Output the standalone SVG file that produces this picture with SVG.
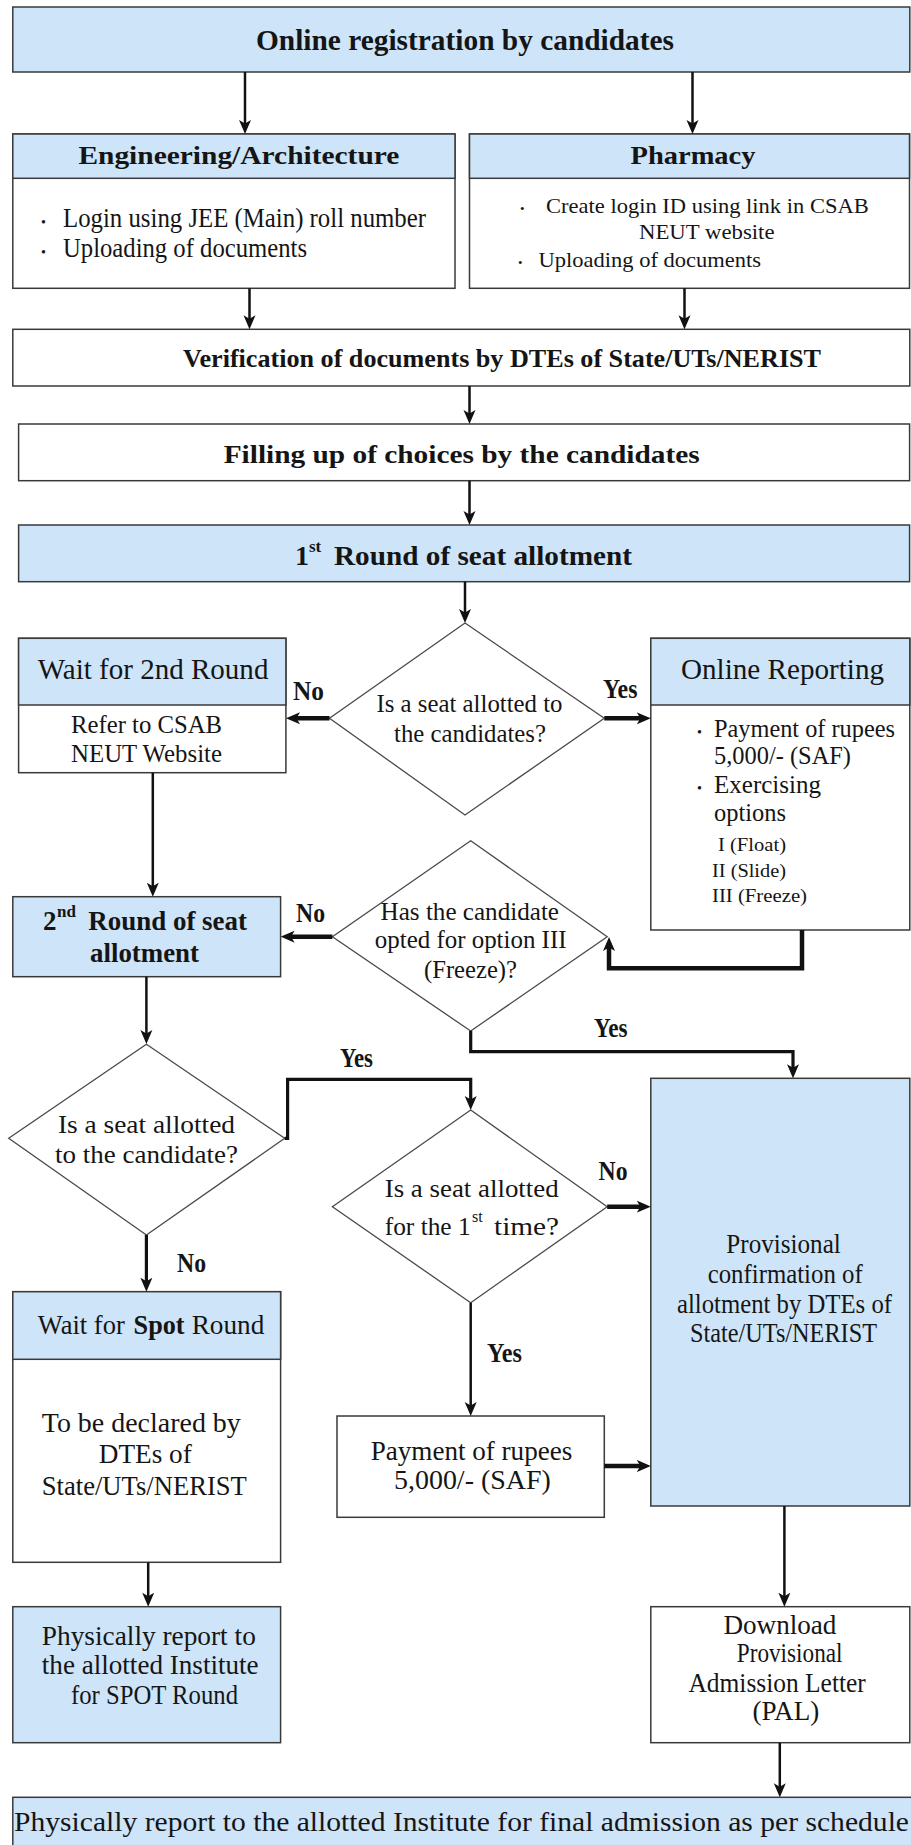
<svg xmlns="http://www.w3.org/2000/svg" width="911" height="1845" viewBox="0 0 911 1845">
<style>
.box{stroke:#3a3a3a;stroke-width:1.5;fill:#fff}
.blue{fill:#cde4f9}
.hdr{fill:#cde4f9;stroke:#3a3a3a;stroke-width:1.5}
.dia{fill:#fff;stroke:#4a4a4a;stroke-width:1.3}
text{font-family:"Liberation Serif","Times New Roman",serif;fill:#151515}
.b{font-weight:bold}
.c{fill:none;stroke:#111;stroke-width:2.5;marker-end:url(#ah)}
.ct{fill:none;stroke:#111;stroke-width:4.5;marker-end:url(#ah)}
.cm{fill:none;stroke:#111;stroke-width:3.2;marker-end:url(#ah)}
</style>
<defs>
<marker id="ah" markerUnits="userSpaceOnUse" markerWidth="14" markerHeight="14" viewBox="0 0 14 14" refX="8" refY="7" orient="auto">
<path d="M0,1 L14,7 L0,13 L3.5,7 z" fill="#111"/>
</marker>
</defs>
<rect width="911" height="1845" fill="#fff"/>

<g id="n-top">
<rect class="box blue" x="12.8" y="7" width="897" height="65"/>
<text class="b" x="256" y="50" font-size="30" textLength="418" lengthAdjust="spacingAndGlyphs">Online registration by candidates</text>
</g>

<g id="n-eng">
<rect class="box" x="12.8" y="134" width="442.2" height="154.3"/>
<rect class="hdr" x="12.8" y="134" width="442.2" height="44.3"/>
<text class="b" x="78.4" y="164" font-size="26" textLength="321" lengthAdjust="spacingAndGlyphs">Engineering/Architecture</text>
<text x="41" y="227" font-size="14">•</text>
<text x="63" y="227" font-size="27" textLength="363" lengthAdjust="spacingAndGlyphs">Login using JEE (Main) roll number</text>
<text x="41" y="257" font-size="14">•</text>
<text x="63" y="257" font-size="27" textLength="244" lengthAdjust="spacingAndGlyphs">Uploading of documents</text>
</g>

<g id="n-pharmacy">
<rect class="box" x="469.5" y="134" width="440" height="154.3"/>
<rect class="hdr" x="469.5" y="134" width="440" height="44.3"/>
<text class="b" x="630.5" y="164" font-size="26" textLength="125" lengthAdjust="spacingAndGlyphs">Pharmacy</text>
<text x="520" y="213" font-size="13">•</text>
<text x="546" y="213" font-size="21" textLength="322.7" lengthAdjust="spacingAndGlyphs">Create login ID using link in CSAB</text>
<text x="639" y="239.3" font-size="21" textLength="135.5" lengthAdjust="spacingAndGlyphs">NEUT website</text>
<text x="518" y="266.7" font-size="13">•</text>
<text x="538.6" y="266.7" font-size="21" textLength="222.4" lengthAdjust="spacingAndGlyphs">Uploading of documents</text>
</g>

<g id="n-verify">
<rect class="box" x="12.8" y="329.3" width="897" height="56.7"/>
<text class="b" x="183" y="367" font-size="26" textLength="638" lengthAdjust="spacingAndGlyphs">Verification of documents by DTEs of State/UTs/NERIST</text>
</g>

<g id="n-filling">
<rect class="box" x="18.6" y="424" width="891" height="56.7"/>
<text class="b" x="223.7" y="463" font-size="26" textLength="476" lengthAdjust="spacingAndGlyphs">Filling up of choices by the candidates</text>
</g>

<g id="n-round1">
<rect class="box blue" x="18.6" y="525" width="891" height="56.7"/>
<text class="b" x="295" y="565" font-size="28">1</text>
<text class="b" x="309" y="552" font-size="17">st</text>
<text class="b" x="334" y="565" font-size="28" textLength="298" lengthAdjust="spacingAndGlyphs">Round of seat allotment</text>
</g>

<g id="n-d1">
<polygon class="dia" points="465,623 604.3,718.3 465,815 329.5,718.3"/>
<text x="376.5" y="711.7" font-size="25" textLength="186" lengthAdjust="spacingAndGlyphs">Is a seat allotted to</text>
<text x="394" y="741.7" font-size="25" textLength="152" lengthAdjust="spacingAndGlyphs">the candidates?</text>
</g>

<g id="n-wait2">
<rect class="box" x="18.6" y="638.3" width="267.3" height="134.4"/>
<rect class="hdr" x="18.6" y="638.3" width="267.3" height="66.7"/>
<text x="37.8" y="679" font-size="29" textLength="230.6" lengthAdjust="spacingAndGlyphs">Wait for 2nd Round</text>
<text x="71" y="733" font-size="26" textLength="151" lengthAdjust="spacingAndGlyphs">Refer to CSAB</text>
<text x="71" y="762" font-size="26" textLength="151" lengthAdjust="spacingAndGlyphs">NEUT Website</text>
</g>

<g id="n-online">
<rect class="box" x="650.8" y="638.3" width="259" height="291.7"/>
<rect class="hdr" x="650.8" y="638.3" width="259" height="66.7"/>
<text x="681" y="679" font-size="30" textLength="203" lengthAdjust="spacingAndGlyphs">Online Reporting</text>
<text x="697" y="736.5" font-size="14">•</text>
<text x="714" y="736.5" font-size="25" textLength="181" lengthAdjust="spacingAndGlyphs">Payment of rupees</text>
<text x="714" y="763.5" font-size="25" textLength="137" lengthAdjust="spacingAndGlyphs">5,000/- (SAF)</text>
<text x="697" y="793" font-size="14">•</text>
<text x="714" y="793" font-size="25" textLength="107" lengthAdjust="spacingAndGlyphs">Exercising</text>
<text x="714" y="821" font-size="25" textLength="72" lengthAdjust="spacingAndGlyphs">options</text>
<text x="718" y="851" font-size="19" textLength="68" lengthAdjust="spacingAndGlyphs">I (Float)</text>
<text x="712" y="877" font-size="19" textLength="74" lengthAdjust="spacingAndGlyphs">II (Slide)</text>
<text x="712" y="902" font-size="19" textLength="95" lengthAdjust="spacingAndGlyphs">III (Freeze)</text>
</g>

<g id="n-d2">
<polygon class="dia" points="470.7,840.7 607.2,936.7 470.7,1031 332.4,936.7"/>
<text x="380.6" y="920" font-size="25" textLength="178.4" lengthAdjust="spacingAndGlyphs">Has the candidate</text>
<text x="374.8" y="948.3" font-size="25" textLength="191.7" lengthAdjust="spacingAndGlyphs">opted for option III</text>
<text x="424" y="978.3" font-size="25" textLength="93" lengthAdjust="spacingAndGlyphs">(Freeze)?</text>
</g>

<g id="n-round2">
<rect class="box blue" x="12.8" y="896.7" width="267.8" height="80"/>
<text class="b" x="43" y="930" font-size="27">2</text>
<text class="b" x="57" y="917" font-size="17">nd</text>
<text class="b" x="88.3" y="930" font-size="27" textLength="158.7" lengthAdjust="spacingAndGlyphs">Round of seat</text>
<text class="b" x="90" y="962" font-size="27" textLength="109" lengthAdjust="spacingAndGlyphs">allotment</text>
</g>

<g id="n-d3">
<polygon class="dia" points="146.4,1044.3 284.7,1138.3 146.4,1235 8.7,1138.3"/>
<text x="58" y="1132.7" font-size="25" textLength="177" lengthAdjust="spacingAndGlyphs">Is a seat allotted</text>
<text x="55" y="1163.3" font-size="25" textLength="183" lengthAdjust="spacingAndGlyphs">to the candidate?</text>
</g>

<g id="n-d4">
<polygon class="dia" points="470.7,1110 607.2,1206.7 470.7,1302.7 332.4,1206.7"/>
<text x="384.7" y="1196.7" font-size="25" textLength="174" lengthAdjust="spacingAndGlyphs">Is a seat allotted</text>
<text x="384.7" y="1235" font-size="25" textLength="86" lengthAdjust="spacingAndGlyphs">for the 1</text>
<text x="472" y="1222" font-size="16">st</text>
<text x="494" y="1235" font-size="25" textLength="65" lengthAdjust="spacingAndGlyphs">time?</text>
</g>

<g id="n-provisional">
<rect class="box blue" x="650.8" y="1078.3" width="259" height="427.7"/>
<text x="726.3" y="1253.3" font-size="27" textLength="114.5" lengthAdjust="spacingAndGlyphs">Provisional</text>
<text x="707.7" y="1283.3" font-size="27" textLength="155" lengthAdjust="spacingAndGlyphs">confirmation of</text>
<text x="677" y="1313.3" font-size="27" textLength="215" lengthAdjust="spacingAndGlyphs">allotment by DTEs of</text>
<text x="690" y="1341.7" font-size="27" textLength="187" lengthAdjust="spacingAndGlyphs">State/UTs/NERIST</text>
</g>

<g id="n-spot">
<rect class="box" x="12.8" y="1291.7" width="267.8" height="270.6"/>
<rect class="hdr" x="12.8" y="1291.7" width="267.8" height="67.6"/>
<text x="37.8" y="1334" font-size="28" textLength="87" lengthAdjust="spacingAndGlyphs">Wait for</text>
<text class="b" x="133.6" y="1334" font-size="28" textLength="51" lengthAdjust="spacingAndGlyphs">Spot</text>
<text x="191.7" y="1334" font-size="28" textLength="72.7" lengthAdjust="spacingAndGlyphs">Round</text>
<text x="41.8" y="1431.7" font-size="28" textLength="199" lengthAdjust="spacingAndGlyphs">To be declared by</text>
<text x="98.8" y="1463.3" font-size="28" textLength="93" lengthAdjust="spacingAndGlyphs">DTEs of</text>
<text x="41.8" y="1495" font-size="28" textLength="205" lengthAdjust="spacingAndGlyphs">State/UTs/NERIST</text>
</g>

<g id="n-payment">
<rect class="box" x="337" y="1416" width="267.3" height="101.3"/>
<text x="370.7" y="1460" font-size="28" textLength="201.6" lengthAdjust="spacingAndGlyphs">Payment of rupees</text>
<text x="394" y="1489" font-size="28" textLength="156.8" lengthAdjust="spacingAndGlyphs">5,000/- (SAF)</text>
</g>

<g id="n-physspot">
<rect class="box blue" x="12.8" y="1606.7" width="267.8" height="136"/>
<text x="41.8" y="1645" font-size="28" textLength="214" lengthAdjust="spacingAndGlyphs">Physically report to</text>
<text x="41.8" y="1674" font-size="28" textLength="216.8" lengthAdjust="spacingAndGlyphs">the allotted Institute</text>
<text x="71" y="1704" font-size="28" textLength="167" lengthAdjust="spacingAndGlyphs">for SPOT Round</text>
</g>

<g id="n-download">
<rect class="box" x="650.8" y="1606.7" width="259" height="136"/>
<text x="723.4" y="1634" font-size="27" textLength="113" lengthAdjust="spacingAndGlyphs">Download</text>
<text x="736.8" y="1662" font-size="27" textLength="105.7" lengthAdjust="spacingAndGlyphs">Provisional</text>
<text x="688.5" y="1692" font-size="27" textLength="177.3" lengthAdjust="spacingAndGlyphs">Admission Letter</text>
<text x="752.5" y="1720" font-size="27" textLength="66.8" lengthAdjust="spacingAndGlyphs">(PAL)</text>
</g>

<g id="n-final">
<rect class="box blue" x="12.8" y="1797.3" width="910" height="60"/>
<text x="14" y="1831" font-size="28" textLength="895" lengthAdjust="spacingAndGlyphs">Physically report to the allotted Institute for final admission as per schedule</text>
</g>

<g id="connectors">
<path class="c" d="M245,72 V128"/>
<path class="c" d="M692.5,72 V128"/>
<path class="c" d="M249.5,288.3 V323.3"/>
<path class="c" d="M684.5,288.3 V323.3"/>
<path class="c" d="M469.5,386 V418"/>
<path class="c" d="M469.5,480.7 V519"/>
<path class="c" d="M465,581.7 V617"/>
<path class="ct" d="M329.5,718.3 H292"/>
<path class="ct" d="M604.3,718.3 H644.8"/>
<path class="c" d="M152.8,772.7 V890.7"/>
<path class="ct" d="M802,930 V968.3 H609 V943"/>
<path class="ct" d="M332.4,936.7 H286.6"/>
<path class="cm" d="M470.7,1031 V1051.7 H793 V1072.3"/>
<path class="c" d="M146.4,976.7 V1038"/>
<path class="cm" d="M284.7,1138.3 H287.6 V1079.3 H470.7 V1104"/>
<path class="ct" d="M607.2,1206.7 H644.8"/>
<path class="cm" d="M146.4,1235 V1285.7"/>
<path class="c" d="M470.7,1302.7 V1410"/>
<path class="ct" d="M604.3,1466 H644.8"/>
<path class="c" d="M784.4,1506 V1600.7"/>
<path class="c" d="M148.2,1562.3 V1600.7"/>
<path class="c" d="M779.8,1742.7 V1791.3"/>
<text class="b" x="293" y="700" font-size="27" textLength="31" lengthAdjust="spacingAndGlyphs">No</text>
<text class="b" x="603" y="698.3" font-size="27" textLength="34.4" lengthAdjust="spacingAndGlyphs">Yes</text>
<text class="b" x="296" y="921.7" font-size="27" textLength="29" lengthAdjust="spacingAndGlyphs">No</text>
<text class="b" x="594" y="1036.7" font-size="27" textLength="33.5" lengthAdjust="spacingAndGlyphs">Yes</text>
<text class="b" x="340" y="1067.3" font-size="27" textLength="33" lengthAdjust="spacingAndGlyphs">Yes</text>
<text class="b" x="598.5" y="1180" font-size="27" textLength="29" lengthAdjust="spacingAndGlyphs">No</text>
<text class="b" x="177" y="1271.7" font-size="27" textLength="29" lengthAdjust="spacingAndGlyphs">No</text>
<text class="b" x="487" y="1361.7" font-size="27" textLength="35" lengthAdjust="spacingAndGlyphs">Yes</text>
</g>
</svg>
